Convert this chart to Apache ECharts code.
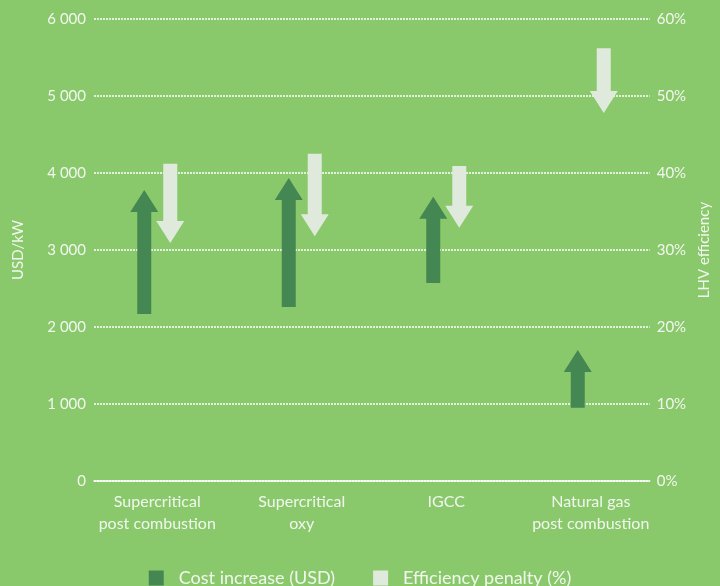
<!DOCTYPE html>
<html>
<head>
<meta charset="utf-8">
<title>CCS cost and efficiency</title>
<script src="https://cdn.jsdelivr.net/npm/echarts@6/dist/echarts.min.js"></script>
<style>
  html, body { margin: 0; padding: 0; background: #8ac96b; }
  #chart { width: 720px; height: 586px; }
</style>
</head>
<body>
<div id="chart"></div>
<script>
  var categories = ['Supercritical\npost combustion', 'Supercritical\noxy', 'IGCC', 'Natural gas\npost combustion']
  // cost arrow: from (start) -> to (tip), USD/kW
  var costFrom = [2170, 2260, 2570, 950]
  var costTo = [3780, 3935, 3690, 1700]
  // efficiency arrow: from -> to, LHV %
  var effFrom = [41.2, 42.5, 40.9, 56.2]
  var effTo = [30.9, 31.8, 32.9, 47.8]
  var costTicks = [0, 1000, 2000, 3000, 4000, 5000, 6000]
  var effTicks = [0, 10, 20, 30, 40, 50, 60]

  var font = 'Lato, "Open Sans", sans-serif'
  var txt = '#f1f7ee'

  function arrowItem(offset, color) {
    return function (params, api) {
      var i = api.value(0)
      var p0 = api.coord([i, api.value(1)])
      var p1 = api.coord([i, api.value(2)])
      var x = p0[0] + offset
      var dir = p1[1] < p0[1] ? 1 : -1 // 1 = pointing up
      var head = 22
      var hw = 14
      var sw = 7
      var baseY = p1[1] + dir * head
      return {
        type: 'polygon',
        shape: {
          points: [
            [x - sw, p0[1]], [x - sw, baseY], [x - hw, baseY],
            [x, p1[1]],
            [x + hw, baseY], [x + sw, baseY], [x + sw, p0[1]]
          ]
        },
        style: { fill: color }
      }
    }
  }

  var costData = categories.map(function (c, i) { return [i, costFrom[i], costTo[i]] })
  var effData = categories.map(function (c, i) { return [i, effFrom[i], effTo[i]] })

  var chart = echarts.init(document.getElementById('chart'))
  chart.setOption({
    backgroundColor: '#8ac96b',
    textStyle: { fontFamily: font },
    grid: [
      { left: 85, right: 57, top: 19, bottom: 105 }, // arrows
      { left: 94, right: 65, top: 19, bottom: 105 } // gridlines / axes
    ],
    legend: {
      data: ['Cost increase (USD)', 'Efficiency penalty (%)'],
      left: 'center',
      top: 564,
      icon: 'rect',
      itemWidth: 15,
      itemHeight: 15,
      itemGap: 38,
      textStyle: { color: txt, fontSize: 18, fontFamily: font, padding: [0, 0, 0, 10] }
    },
    xAxis: [
      {
        type: 'category',
        gridIndex: 0,
        data: categories,
        axisLine: { show: false },
        axisTick: { show: false },
        axisLabel: { color: txt, fontSize: 16, lineHeight: 22, margin: 10, interval: 0 }
      },
      {
        type: 'category',
        gridIndex: 1,
        data: categories,
        axisLine: { show: true, lineStyle: { color: '#ffffff', width: 1.5 } },
        axisTick: { show: false },
        axisLabel: { show: false }
      }
    ],
    yAxis: [
      { type: 'value', gridIndex: 0, min: 0, max: 6000, show: false },
      { type: 'value', gridIndex: 0, min: 0, max: 60, show: false },
      {
        type: 'value',
        gridIndex: 1,
        min: costTicks[0],
        max: costTicks[costTicks.length - 1],
        interval: 1000,
        name: 'USD/kW',
        nameLocation: 'middle',
        nameGap: 68,
        nameTextStyle: { color: txt, fontSize: 15 },
        axisLine: { show: false },
        axisTick: { show: false },
        splitLine: { show: true, lineStyle: { color: '#ffffff', type: [2, 1], width: 1.5 } },
        axisLabel: {
          color: txt, fontSize: 15, margin: 8,
          formatter: function (v) { return v >= 1000 ? Math.floor(v / 1000) + ' 000' : String(v) }
        }
      },
      {
        type: 'value',
        gridIndex: 1,
        position: 'right',
        min: effTicks[0],
        max: effTicks[effTicks.length - 1],
        interval: 10,
        name: 'LHV efficiency',
        nameLocation: 'middle',
        nameGap: 44,
        nameTextStyle: { color: txt, fontSize: 15 },
        axisLine: { show: false },
        axisTick: { show: false },
        splitLine: { show: false },
        axisLabel: { color: txt, fontSize: 15, margin: 7, formatter: '{value}%' }
      }
    ],
    series: [
      {
        name: 'Cost increase (USD)',
        type: 'custom',
        xAxisIndex: 0,
        yAxisIndex: 0,
        itemStyle: { color: '#458753' },
        renderItem: arrowItem(-13, '#458753'),
        encode: { x: 0, y: [1, 2] },
        data: costData
      },
      {
        name: 'Efficiency penalty (%)',
        type: 'custom',
        xAxisIndex: 0,
        yAxisIndex: 1,
        itemStyle: { color: '#dfe9dc' },
        renderItem: arrowItem(13, '#dfe9dc'),
        encode: { x: 0, y: [1, 2] },
        data: effData
      }
    ]
  })
</script>
</body>
</html>
